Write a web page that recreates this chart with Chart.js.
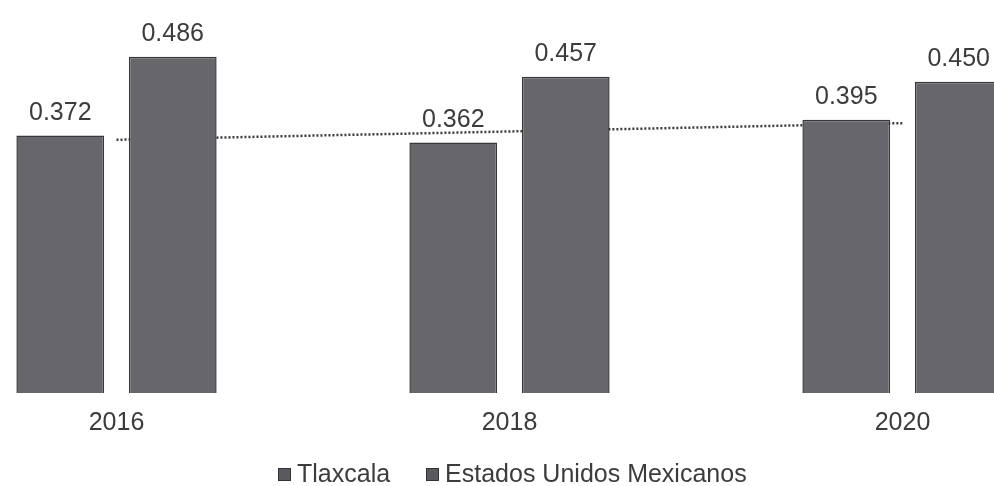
<!DOCTYPE html>
<html>
<head>
<meta charset="utf-8">
<script src="https://cdn.jsdelivr.net/npm/chart.js@4"></script>
<style>
  html, body { margin: 0; padding: 0; background: #ffffff; overflow: hidden; }
  body { width: 994px; height: 486px; position: relative; font-family: "Liberation Sans", Arial, sans-serif; }
  #wrap { position: absolute; left: -80px; top: 0; width: 1179px; height: 486px; }
  #legend { position: absolute; top: 459px; left: 278px; font-size: 25px; color: #3c3c3c; white-space: nowrap; }
  #legend span.item { display: inline-block; margin-right: 36px; }
  #legend i { display: inline-block; width: 11px; height: 11px; background: #5a595e; border: 1px solid #333; margin-right: 6px; vertical-align: 1px; }
</style>
</head>
<body>
<div id="wrap"><canvas id="chart"></canvas></div>
<div id="legend"></div>
<script>
const years = ['2016', '2018', '2020'];
const tlaxcala = [0.372, 0.362, 0.395];
const mexico = [0.486, 0.457, 0.450];
// dotted trend line
const tlaxcalaTrend = [0.366, 0.378, 0.390];
const seriesNames = ['Tlaxcala', 'Estados Unidos Mexicanos'];

const barFill = '#67666b';
const barEdge = '#38373b';
const textColor = '#3c3c3c';

// value labels on top of the bars
const valueLabels = {
  id: 'valueLabels',
  afterDatasetsDraw(chart) {
    const ctx = chart.ctx;
    ctx.save();
    ctx.font = '25px "Liberation Sans", Arial, sans-serif';
    ctx.fillStyle = textColor;
    ctx.textAlign = 'center';
    ctx.textBaseline = 'alphabetic';
    chart.data.datasets.forEach((ds, i) => {
      if (ds.type !== 'bar') return;
      chart.getDatasetMeta(i).data.forEach((bar, j) => {
        ctx.fillText(ds.data[j].toFixed(3), bar.x, bar.y - 16);
      });
    });
    ctx.restore();
  }
};

document.getElementById('legend').innerHTML = seriesNames
  .map(n => '<span class="item"><i></i>' + n + '</span>').join('');

new Chart(document.getElementById('chart'), {
  data: {
    labels: years,
    datasets: [
      {
        type: 'bar', label: seriesNames[0], data: tlaxcala,
        backgroundColor: barFill, borderColor: barEdge, borderWidth: 1.5,
        categoryPercentage: 0.5725, barPercentage: 0.78, order: 1
      },
      {
        type: 'bar', label: seriesNames[1], data: mexico,
        backgroundColor: barFill, borderColor: barEdge, borderWidth: 1.5,
        categoryPercentage: 0.5725, barPercentage: 0.78, order: 1
      },
      {
        type: 'line', label: 'trend', data: tlaxcalaTrend,
        borderColor: '#3a3a3e', borderWidth: 2.5, borderDash: [2, 2],
        pointRadius: 0, fill: false, order: 2
      }
    ]
  },
  options: {
    responsive: true,
    maintainAspectRatio: false,
    animation: false,
    layout: { padding: { top: 0, left: 0, right: 0, bottom: 33 } },
    plugins: { legend: { display: false }, tooltip: { enabled: false } },
    scales: {
      x: {
        offset: true,
        grid: { display: false, drawTicks: false },
        border: { display: false },
        ticks: { color: textColor, font: { size: 25, family: '"Liberation Sans", Arial, sans-serif' }, padding: 15 }
      },
      y: {
        display: false,
        min: 0,
        max: 0.568
      }
    }
  },
  plugins: [valueLabels]
});
</script>
</body>
</html>
